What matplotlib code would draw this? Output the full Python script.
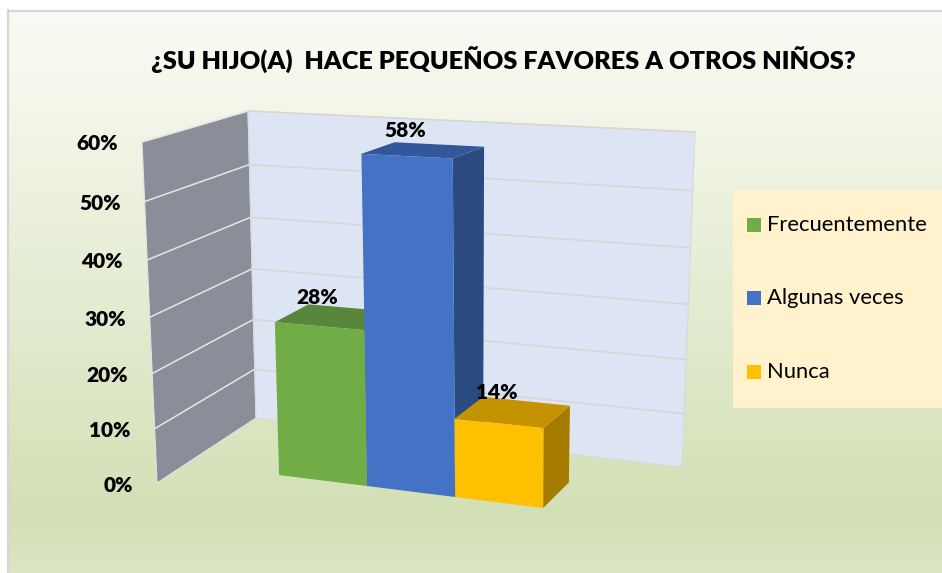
import numpy as np
import matplotlib
matplotlib.use("Agg")
import matplotlib.pyplot as plt
from matplotlib.patches import Polygon, Rectangle
from matplotlib.colors import LinearSegmentedColormap

plt.rcParams['font.family'] = ['Lato', 'DejaVu Sans']

title = "¿SU HIJO(A)  HACE PEQUEÑOS FAVORES A OTROS NIÑOS?"
categories = ["Frecuentemente", "Algunas veces", "Nunca"]
values = [0.28, 0.58, 0.14]
value_labels = ["28%", "58%", "14%"]
ticks = [0.0, 0.1, 0.2, 0.3, 0.4, 0.5, 0.6]
tick_labels = ["0%", "10%", "20%", "30%", "40%", "50%", "60%"]

front_colors = ['#70ad47', '#4472c4', '#ffc000']
top_colors = ['#58863a', '#33579b', '#c59300']
side_colors = ['#4e7a30', '#2b4a80', '#a67c00']

W, H = 942, 573
YMAX = 0.6
BOLD = 'heavy'

# box frame of the 3d plot (pixel corners), bottom and top planes
bot = {(0, 0): (157, 483), (1, 0): (615, 542), (0, 1): (256, 418), (1, 1): (682, 467)}
top = {(0, 0): (142, 142), (1, 0): (616, 165), (0, 1): (248, 111), (1, 1): (695, 132)}


def bilin(c, u, z):
    p = np.zeros(2)
    for (i, j), xy in c.items():
        wu = u if i else 1 - u
        wz = z if j else 1 - z
        p += wu * wz * np.array(xy, float)
    return p


def proj(u, v, z):
    t = v / YMAX
    t = t / (t + 1.058 * (1 - t))  # slight vertical foreshortening
    return (1 - t) * bilin(bot, u, z) + t * bilin(top, u, z)


fig = plt.figure(figsize=(W / 100, H / 100), dpi=100)
ax = fig.add_axes([0, 0, 1, 1])
ax.set_xlim(0, W)
ax.set_ylim(H, 0)
ax.axis('off')

# background gradient
cmap = LinearSegmentedColormap.from_list(
    'bg', [(0, '#f9fbf4'), (0.25, '#f0f4e4'), (0.6, '#e0e9cc'), (0.9, '#d3e0b5'), (1.0, '#dbe5c5')])
grad = np.linspace(0, 1, 256).reshape(-1, 1)
ax.imshow(grad, cmap=cmap, aspect='auto', extent=(8, W, H, 10), zorder=0)
ax.plot([8, W], [10.5, 10.5], color='#d6d6d6', lw=1.6, zorder=1)
ax.plot([8, 8], [10, H], color='#d6d6d6', lw=1.6, zorder=1)

# walls
side = [proj(0, 0, 0), proj(0, YMAX, 0), proj(0, YMAX, 1), proj(0, 0, 1)]
back = [proj(0, 0, 1), proj(0, YMAX, 1), proj(1, YMAX, 1), proj(1, 0, 1)]
ax.add_patch(Polygon(side, closed=True, fc='#898e99', ec='#e3e3e3', lw=0.8, zorder=2))
ax.add_patch(Polygon(back, closed=True, fc='#dde4f3', ec='#d9d9d9', lw=0.8, zorder=2))

for tk, lab in zip(ticks, tick_labels):
    if tk > 0:
        a, b, c = proj(0, tk, 0), proj(0, tk, 1), proj(1, tk, 1)
        ax.plot([a[0], b[0]], [a[1], b[1]], color='#e6e6e6', lw=1.1, zorder=3)
        ax.plot([b[0], c[0]], [b[1], c[1]], color='#d8d6d0', lw=1.1, zorder=3)
    p = proj(0, tk, 0)
    ax.text(p[0] - 24, p[1] + 2, lab, ha='right', va='center', fontsize=15,
            fontweight=BOLD, color='#000000', zorder=6)

# bars
u0, bw = 0.206, 0.1963
zf, zb = 0.30, 0.65
for i, v in enumerate(values):
    ua, ub = u0 + i * bw, u0 + (i + 1) * bw
    sidef = [proj(ub, 0, zf), proj(ub, 0, zb), proj(ub, v, zb), proj(ub, v, zf)]
    topf = [proj(ua, v, zf), proj(ub, v, zf), proj(ub, v, zb), proj(ua, v, zb)]
    front = [proj(ua, 0, zf), proj(ub, 0, zf), proj(ub, v, zf), proj(ua, v, zf)]
    ax.add_patch(Polygon(sidef, closed=True, fc=side_colors[i], ec='none', zorder=4))
    ax.add_patch(Polygon(topf, closed=True, fc=top_colors[i], ec='none', zorder=4))
    ax.add_patch(Polygon(front, closed=True, fc=front_colors[i], ec='none', zorder=4))
    pf = proj((ua + ub) / 2, v, zf)
    pm = proj((ua + ub) / 2, v, (zf + zb) / 2)
    ax.text(pf[0] - 2, pm[1] - 20, value_labels[i], ha='center', va='center',
            fontsize=15, fontweight=BOLD, color='#000000', zorder=6)

# title
ax.text(503, 60, title, ha='center', va='center', fontsize=18.2,
        fontweight=BOLD, color='#000000', zorder=6)

# legend
ax.add_patch(Rectangle((733, 190), W - 733, 218, fc='#fff2cc', ec='none', zorder=2))
for i, name in enumerate(categories):
    y = 225 + i * 73.3
    ax.add_patch(Rectangle((747, y - 7), 14, 14, fc=front_colors[i], ec='none', zorder=5))
    ax.text(767, y, name, ha='left', va='center', fontsize=15.8, color='#000000', zorder=6)

fig.savefig('out.png', dpi=100)
